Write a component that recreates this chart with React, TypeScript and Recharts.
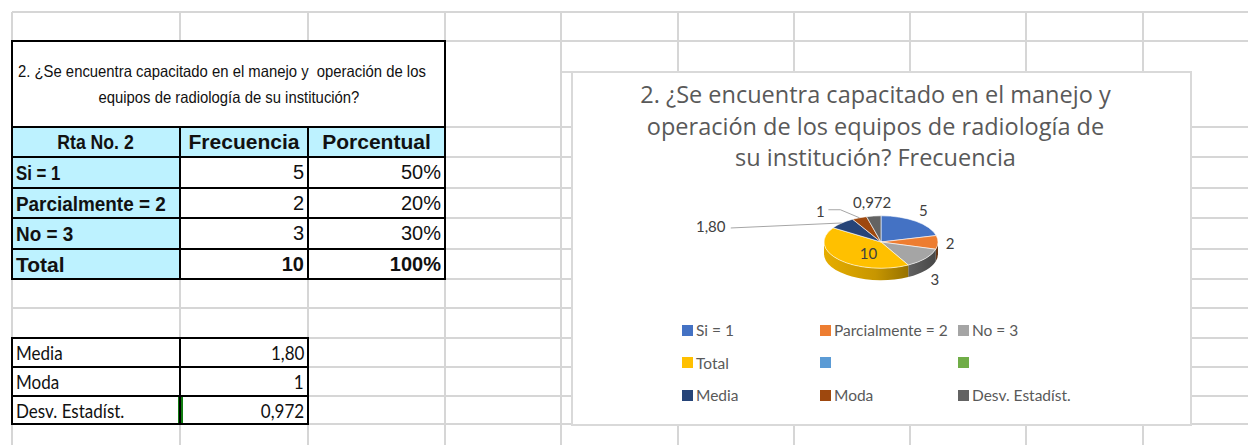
import React from 'react'
import { PieChart, Pie, Cell, Legend } from 'recharts'

// chart series (Frecuencia) as Excel plots it, incl. the two empty categories
const categories = ['Si = 1', 'Parcialmente = 2', 'No = 3', 'Total', '', '', 'Media', 'Moda', 'Desv. Estadíst.']
const frecuencia = [5, 2, 3, 10, null, null, 1.8, 1, 0.972]
const dataLabels = ['5', '2', '3', '10', '', '', '1,80', '1', '0,972']
const sliceColors = ['#4472C4', '#ED7D31', '#A5A5A5', '#FFC000', '#5B9BD5', '#70AD47', '#264478', '#9E480E', '#636363']

// worksheet table
const answerRows = ['Si = 1', 'Parcialmente = 2', 'No = 3']
const answerFreq = ['5', '2', '3']
const answerPct = ['50%', '20%', '30%']
const totalFreq = '10'
const totalPct = '100%'
const statNames = ['Media', 'Moda', 'Desv. Estadíst.']
const statValues = ['1,80', '1', '0,972']

const pieData = categories.map((name, i) => ({ name, value: frecuencia[i], text: dataLabels[i] }))

// sheet geometry
const colX = [12, 180, 308, 445, 561, 678, 794, 910, 1026, 1143]
const rowY = [12, 41, 127, 157, 188, 218, 249, 279, 308, 338, 367, 396, 424]

const GRID = '#d6d6d6'
const CYAN = '#BDF2FF'
const arial = '"Liberation Sans", Arial, sans-serif'
const calib = 'Lato, "Open Sans", sans-serif'
const rowSqueeze = [0.8, 0.9, 0.9]

// 3d look
const TILT = 0.46
const DEPTH = 12

// labels that Excel pulled out with a leader line
const pulled: Record<number, { dx: number; dy: number }> = {
  6: { dx: -131, dy: 3 },
  7: { dx: -39, dy: -7 },
}

function darken(hex: string, f: number) {
  const n = parseInt(hex.slice(1), 16)
  const r = Math.round(((n >> 16) & 255) * f)
  const g = Math.round(((n >> 8) & 255) * f)
  const b = Math.round((n & 255) * f)
  return `rgb(${r},${g},${b})`
}

function onEllipse(cx: number, cy: number, rx: number, ry: number, a: number) {
  const r = (a * Math.PI) / 180
  return [cx + rx * Math.cos(r), cy - ry * Math.sin(r)]
}

function Slice3D(props: any) {
  const { cx, cy, outerRadius, startAngle, endAngle, fill } = props
  const s = Math.max(startAngle, endAngle)
  const e = Math.min(startAngle, endAngle)
  if (!(s - e > 0.01)) return null
  const rx = outerRadius
  const ry = outerRadius * TILT
  const [x1, y1] = onEllipse(cx, cy, rx, ry, s)
  const [x2, y2] = onEllipse(cx, cy, rx, ry, e)
  const large = s - e > 180 ? 1 : 0
  const top = `M${cx},${cy} L${x1},${y1} A${rx},${ry} 0 ${large} 1 ${x2},${y2} Z`

  // front wall: only the part of the rim facing the viewer
  const a2 = Math.min(s, 0)
  const a1 = Math.max(e, -180)
  let side = null
  const gid = `side-${String(fill).replace('#', '')}`
  if (a2 > a1) {
    const [sx1, sy1] = onEllipse(cx, cy, rx, ry, a2)
    const [sx2, sy2] = onEllipse(cx, cy, rx, ry, a1)
    const big = a2 - a1 > 180 ? 1 : 0
    side = (
      <>
        <defs>
          <linearGradient id={gid} gradientUnits="userSpaceOnUse" x1={cx - rx} y1={0} x2={cx + rx} y2={0}>
            <stop offset="0%" stopColor={darken(fill, 0.9)} />
            <stop offset="45%" stopColor={darken(fill, 0.78)} />
            <stop offset="100%" stopColor={darken(fill, 0.42)} />
          </linearGradient>
        </defs>
        <path
          d={`M${sx1},${sy1} A${rx},${ry} 0 ${big} 1 ${sx2},${sy2} L${sx2},${sy2 + DEPTH} A${rx},${ry} 0 ${big} 0 ${sx1},${sy1 + DEPTH} Z`}
          fill={`url(#${gid})`}
        />
      </>
    )
  }
  return (
    <g>
      {side}
      <path d={top} fill={fill} stroke="#ffffff" strokeWidth={0.6} />
    </g>
  )
}

function renderLabel(props: any) {
  const { cx, cy, midAngle, outerRadius, index } = props
  const text = dataLabels[index]
  if (!text) return null
  const rx = outerRadius
  const ry = outerRadius * TILT
  const rad = (midAngle * Math.PI) / 180
  const cos = Math.cos(rad)
  const sin = Math.sin(rad)
  const style = { fontFamily: calib, fontSize: 15, fill: '#404040' }

  if (index === 3) {
    return (
      <text x={cx + cos * rx * 0.3} y={cy - sin * ry * 0.3 + 6} textAnchor="middle" dominantBaseline="central" style={style}>
        {text}
      </text>
    )
  }

  const p = pulled[index]
  if (p) {
    const ex = cx + cos * rx
    const ey = cy - sin * ry
    const lx = ex + p.dx
    const ly = ey + p.dy
    const pts = index === 6
      ? `${lx + 20},${ly + 2} ${ex},${ey}`
      : `${lx + 8},${ly - 1} ${lx + 20},${ly - 1} ${ex},${ey}`
    return (
      <g>
        <polyline points={pts} fill="none" stroke="#a6a6a6" strokeWidth={1} />
        <text x={lx} y={ly} textAnchor="middle" dominantBaseline="central" style={style}>
          {text}
        </text>
      </g>
    )
  }

  const x = cx + cos * (rx + 12)
  const y = cy - sin * (ry + 14) + (sin < 0 ? DEPTH * Math.min(1, -sin * 2) : 0)
  return (
    <text x={x} y={y} textAnchor="middle" dominantBaseline="central" style={style}>
      {text}
    </text>
  )
}

function renderLegend(props: any) {
  // keep the series order (Legend sorts by name otherwise)
  const items = [...(props.payload || [])].sort(
    (a: any, b: any) => sliceColors.indexOf(a.color) - sliceColors.indexOf(b.color)
  )
  return (
    <div style={{ position: 'relative', width: 617, height: 90 }}>
      {items.map((it: any, i: number) => {
        const col = i % 3
        const row = Math.floor(i / 3)
        return (
          <div
            key={i}
            style={{
              position: 'absolute',
              left: 109 + col * 138,
              top: row * 32.5,
              height: 20,
              display: 'flex',
              alignItems: 'center',
              whiteSpace: 'nowrap',
              fontFamily: calib,
              fontSize: 15.5,
              color: '#595959',
            }}
          >
            <span style={{ display: 'inline-block', width: 11, height: 11, background: it.color, marginRight: 3 }} />
            {it.value}
          </div>
        )
      })}
    </div>
  )
}

function Box({ x, y, w, h, bg = '#fff', children, style }: any) {
  return (
    <div style={{ position: 'absolute', left: x, top: y, width: w, height: h, background: bg, ...style }}>
      {children}
    </div>
  )
}

function CellText({ x, y, w, h, align = 'left', bold = false, size = 20, font = arial, sx = 1, children }: any) {
  return (
    <div
      style={{
        position: 'absolute',
        left: x,
        top: y,
        width: w,
        height: h,
        display: 'flex',
        alignItems: 'center',
        justifyContent: align === 'right' ? 'flex-end' : align === 'center' ? 'center' : 'flex-start',
        fontFamily: font,
        fontSize: size,
        fontWeight: bold ? 700 : 400,
        color: '#111',
        whiteSpace: 'nowrap',
        boxSizing: 'border-box',
        padding: '0 4px',
      }}
    >
      <span style={{ display: 'inline-block', transform: `scaleX(${sx})`, transformOrigin: align === 'right' ? 'right center' : align === 'center' ? 'center' : 'left center' }}>
        {children}
      </span>
    </div>
  )
}

export default function App() {
  const tRows = [157, 188, 218, 249]
  return (
    <div style={{ position: 'absolute', left: 0, top: 0, width: 1248, height: 445, background: '#fff', overflow: 'hidden' }}>
      {/* sheet grid */}
      <svg width={1248} height={445} style={{ position: 'absolute', left: 0, top: 0 }}>
        {rowY.map((y) => (
          <line key={'h' + y} x1={12} x2={1248} y1={y} y2={y} stroke={GRID} strokeWidth={2} />
        ))}
        {colX.map((x) => (
          <line key={'v' + x} x1={x} x2={x} y1={12} y2={445} stroke={GRID} strokeWidth={2} />
        ))}
      </svg>

      {/* table backgrounds */}
      <Box x={12} y={41} w={433} h={86} />
      <Box x={12} y={127} w={433} h={30} bg={CYAN} />
      <Box x={12} y={157} w={168} h={122} bg={CYAN} />
      <Box x={180} y={157} w={265} h={122} />
      <Box x={12} y={338} w={296} h={86} />

      {/* table text */}
      <CellText x={14} y={58} w={430} h={26} size={16.5} sx={0.9}>
        2. ¿Se encuentra capacitado en el manejo y&nbsp; operación de los
      </CellText>
      <CellText x={12} y={84} w={433} h={26} size={16.5} sx={0.9} align="center">
        equipos de radiología de su institución?
      </CellText>
      <CellText x={12} y={127} w={168} h={30} size={21} sx={0.84} bold align="center">Rta No. 2</CellText>
      <CellText x={180} y={127} w={128} h={30} size={21} bold align="center">Frecuencia</CellText>
      <CellText x={308} y={127} w={137} h={30} size={21} bold align="center">Porcentual</CellText>
      {answerRows.map((r, i) => (
        <React.Fragment key={r}>
          <CellText x={12} y={tRows[i]} w={168} h={31} size={21} sx={rowSqueeze[i]} bold>{r}</CellText>
          <CellText x={180} y={tRows[i]} w={128} h={31} align="right">{answerFreq[i]}</CellText>
          <CellText x={308} y={tRows[i]} w={137} h={31} align="right">{answerPct[i]}</CellText>
        </React.Fragment>
      ))}
      <CellText x={12} y={249} w={168} h={31} size={21} bold>Total</CellText>
      <CellText x={180} y={249} w={128} h={31} bold align="right">{totalFreq}</CellText>
      <CellText x={308} y={249} w={137} h={31} bold align="right">{totalPct}</CellText>
      {statNames.map((n, i) => (
        <React.Fragment key={n}>
          <CellText x={12} y={338 + i * 29} w={168} h={29} font={calib} size={18.5} sx={0.92}>{n}</CellText>
          <CellText x={180} y={338 + i * 29} w={128} h={29} font={calib} size={18.5} sx={0.92} align="right">{statValues[i]}</CellText>
        </React.Fragment>
      ))}
      <Box x={178} y={396} w={5} h={28} bg="#107C10" />

      {/* table borders */}
      <svg width={1248} height={445} style={{ position: 'absolute', left: 0, top: 0 }}>
        <rect x={12} y={41} width={433} height={86} fill="none" stroke="#000" strokeWidth={2} />
        {[127, 157, 188, 218, 249, 279].map((y) => (
          <line key={'t' + y} x1={11} x2={446} y1={y} y2={y} stroke="#000" strokeWidth={2} />
        ))}
        {[12, 180, 308, 445].map((x) => (
          <line key={'tv' + x} x1={x} x2={x} y1={127} y2={280} stroke="#000" strokeWidth={2} />
        ))}
        {[338, 367, 396, 424].map((y) => (
          <line key={'s' + y} x1={11} x2={309} y1={y} y2={y} stroke="#000" strokeWidth={2} />
        ))}
        {[12, 180, 308].map((x) => (
          <line key={'sv' + x} x1={x} x2={x} y1={338} y2={425} stroke="#000" strokeWidth={2} />
        ))}
      </svg>

      {/* chart area */}
      <div style={{ position: 'absolute', left: 562, top: 71, width: 627, height: 2, background: '#d9d9d9' }} />
      <div
        style={{
          position: 'absolute',
          left: 571,
          top: 71,
          width: 617,
          height: 351,
          background: '#fff',
          border: '2px solid #d9d9d9',
        }}
      >
        <div
          style={{
            position: 'absolute',
            left: 0,
            top: 6,
            width: 605,
            textAlign: 'center',
            fontFamily: '"Open Sans", Lato, sans-serif',
            fontSize: 23.5,
            lineHeight: '31.5px',
            color: '#595959',
          }}
        >
          2. ¿Se encuentra capacitado en el manejo y<br />
          operación de los equipos de radiología de<br />
          su institución? Frecuencia
        </div>
        <div style={{ position: 'absolute', left: 0, top: 0 }}>
          <PieChart width={617} height={351} margin={{ top: 0, right: 0, bottom: 0, left: 0 }}>
            <Pie
              data={pieData}
              dataKey="value"
              nameKey="name"
              cx={308}
              cy={169}
              outerRadius={57}
              startAngle={90}
              endAngle={-270}
              shape={Slice3D}
              activeShape={Slice3D}
              label={renderLabel}
              labelLine={false}
              stroke="none"
              isAnimationActive={false}
            >
              {pieData.map((d, i) => (
                <Cell key={i} fill={sliceColors[i]} />
              ))}
            </Pie>
            <Legend
              content={renderLegend}
              wrapperStyle={{ position: 'absolute', left: 0, top: 247, width: 617 }}
            />
          </PieChart>
        </div>
      </div>
    </div>
  )
}
